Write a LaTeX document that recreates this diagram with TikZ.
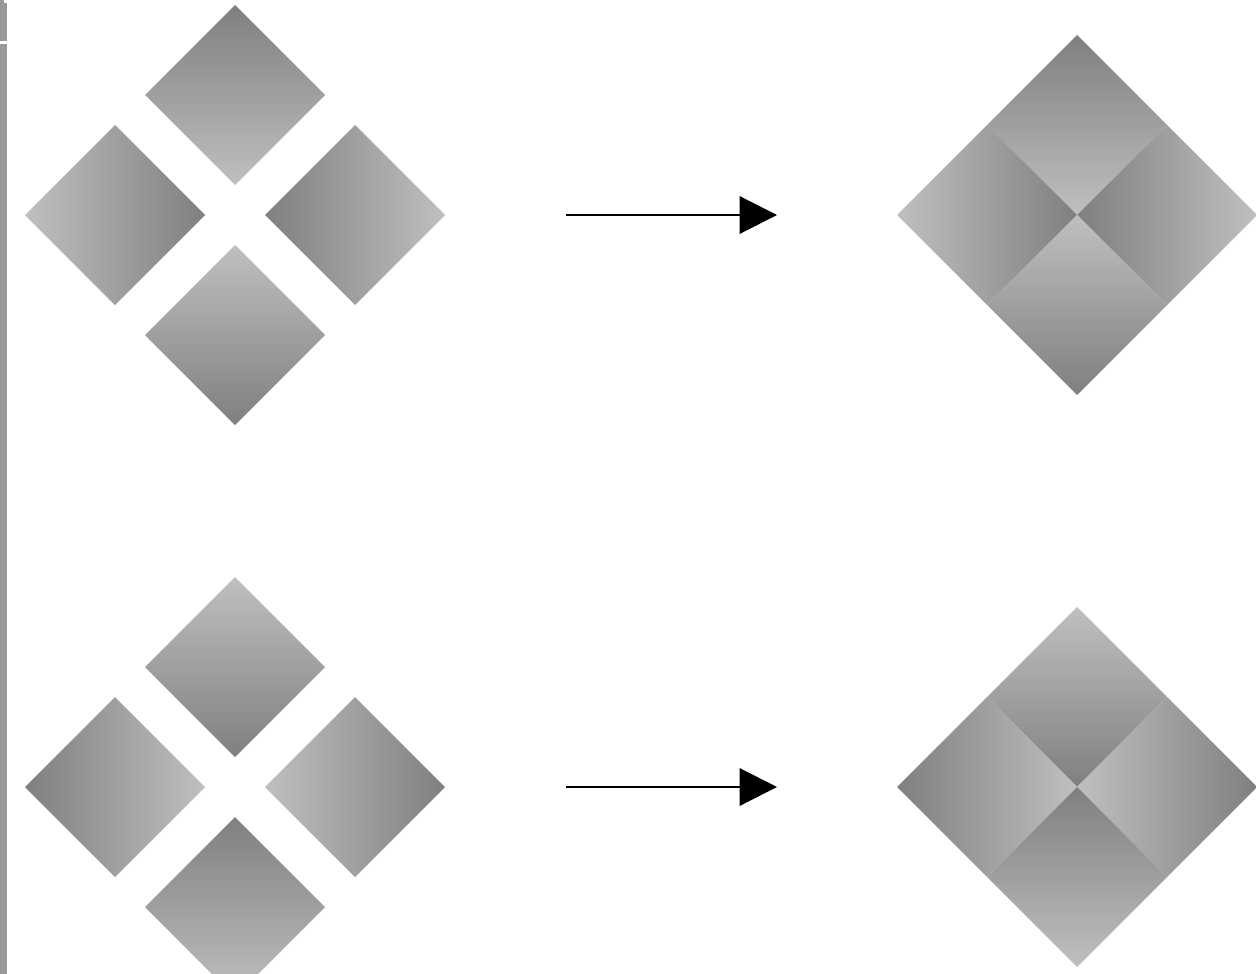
\documentclass[tikz,border=0pt]{standalone}
\usetikzlibrary{arrows.meta}
\definecolor{dk}{gray}{0.50}
\definecolor{lt}{gray}{0.75}
\definecolor{barc}{gray}{0.60}
\tikzset{
  tdark/.style={top color=dk,bottom color=lt},
  tlight/.style={top color=lt,bottom color=dk},
  ldark/.style={left color=dk,right color=lt},
  llight/.style={left color=lt,right color=dk},
  conn/.style={line width=1.6pt,-{Triangle[length=28pt,width=28pt]}}
}
\def\dia(#1,#2){(#1,#2) ++(0,-90) -- ++(90,90) -- ++(-90,90) -- ++(-90,-90) -- cycle}
\begin{document}
\begin{tikzpicture}[x=0.75pt,y=-0.75pt]
\useasboundingbox (0,0) rectangle (1256,974);
\fill[white] (0,0) rectangle (1256,974);
% left edge bar
\fill[barc] (0,0) rectangle (7,974);
\fill[white] (0,41) rectangle (8,44);
\fill[white] (4,0) rectangle (8,3);
% top-left group (centre 235,215)
\shade[tdark]  \dia(235,95);
\shade[llight] \dia(115,215);
\shade[ldark]  \dia(355,215);
\shade[tlight] \dia(235,335);
% bottom-left group (centre 235,787)
\shade[tlight] \dia(235,667);
\shade[ldark]  \dia(115,787);
\shade[llight] \dia(355,787);
\shade[tdark]  \dia(235,907);
% top-right assembled diamond (centre 1077,215)
\shade[tdark]  \dia(1077,125);
\shade[llight] \dia(987,215);
\shade[ldark]  \dia(1167,215);
\shade[tlight] \dia(1077,305);
% bottom-right assembled diamond (centre 1077,787)
\shade[tlight] \dia(1077,697);
\shade[ldark]  \dia(987,787);
\shade[llight] \dia(1167,787);
\shade[tdark]  \dia(1077,877);
% arrows
\coordinate (a1s) at (566,215);
\coordinate (a1e) at (777,215);
\coordinate (a2s) at (566,787);
\coordinate (a2e) at (777,787);
\draw[conn] (a1s) -- (a1e);
\draw[conn] (a2s) -- (a2e);
\end{tikzpicture}
\end{document}
